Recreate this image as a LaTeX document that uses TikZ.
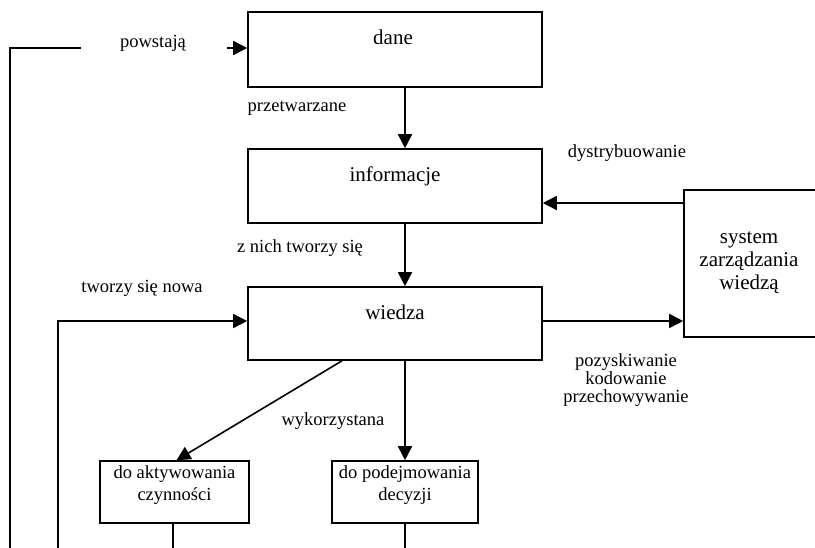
\documentclass[tikz,border=0pt]{standalone}
\usepackage{fontspec}
\setmainfont{Liberation Serif}
\usetikzlibrary{arrows.meta}
\begin{document}
\begin{tikzpicture}[x=1pt,y=-1pt,
  bigbox/.style={draw, line width=1.6pt, minimum width=294pt, minimum height=74pt, inner sep=0pt},
  smallbox/.style={draw, line width=1.6pt, minimum height=62pt, inner sep=0pt},
  boxtext/.style={font=\fontsize{21}{23}\selectfont, align=center, inner sep=0pt},
  smalltext/.style={font=\fontsize{18.5}{22.7}\selectfont, align=center, inner sep=0pt},
  lbl/.style={font=\fontsize{18.5}{18.3}\selectfont, align=center, inner sep=0pt},
  arr/.style={line width=1.6pt, -{Triangle[length=14pt,width=14pt]}},
  ln/.style={line width=1.6pt}]
\useasboundingbox (0,0) rectangle (815,547);

% boxes
\node[bigbox, minimum height=75pt] (dane) at (395,49.5) {};
\node[boxtext] (danet) at (393,37) {dane};
\node[bigbox] (info) at (395,186) {};
\node[boxtext] (infot) at (395,176) {informacje};
\node[bigbox, minimum height=73pt] (wiedza) at (395,323.5) {};
\node[boxtext] (wiedzat) at (395,312) {wiedza};
\node[draw, line width=1.6pt, minimum width=133pt, minimum height=147pt, inner sep=0pt] (system) at (750.5,263.5) {};
\node[boxtext] (systemt) at (749,263) {system\\zarządzania\\wiedzą};
\node[smallbox, minimum width=149pt] (akt) at (174.5,492) {};
\node[smalltext] (aktt) at (174.5,485) {do aktywowania\\czynności};
\node[smallbox, minimum width=146pt] (pod) at (405,492) {};
\node[smalltext] (podt) at (405,485) {do podejmowania\\decyzji};

% labels
\node[lbl] (l1) at (153,43) {powstają};
\node[lbl] (l2) at (297,108) {przetwarzane};
\node[lbl] (l3) at (300,248) {z nich tworzy się};
\node[lbl] (l4) at (142,288) {tworzy się nowa};
\node[lbl] (l5) at (627,153) {dystrybuowanie};
\node[lbl] (l6) at (626,380) {pozyskiwanie\\kodowanie\\przechowywanie};
\node[lbl] (l7) at (333,421) {wykorzystana};

% connectors
\coordinate (b1) at (10,560);
\coordinate (c1) at (10,48);
\coordinate (c2) at (81,48);
\coordinate (c3) at (227,48);
\draw[ln] (b1) -- (c1) -- (c2);
\draw[arr] (c3) -- (c3 -| dane.west);

\coordinate (b2) at (58,560);
\coordinate (c4) at (58,321);
\draw[arr] (b2) -- (c4) -- (c4 -| wiedza.west);

\draw[arr] ([xshift=10pt]dane.south) -- ([xshift=10pt]info.north);
\draw[arr] ([xshift=10pt]info.south) -- ([xshift=10pt]wiedza.north);

\coordinate (c5) at (684,203);
\draw[arr] (system.west |- c5) -- (c5 -| info.east);
\coordinate (c6) at (600,321);
\draw[arr] (c6 -| wiedza.east) -- (c6 -| system.west);

\draw[arr] ([xshift=-53pt]wiedza.south) -- ([xshift=2pt]akt.north);
\draw[arr] (wiedza.south -| pod.north) -- (pod.north);

\coordinate (b3) at (173,560);
\coordinate (b4) at (405,560);
\draw[ln] (b3 |- akt.south) -- (b3);
\draw[ln] (pod.south) -- (b4);
\end{tikzpicture}
\end{document}
